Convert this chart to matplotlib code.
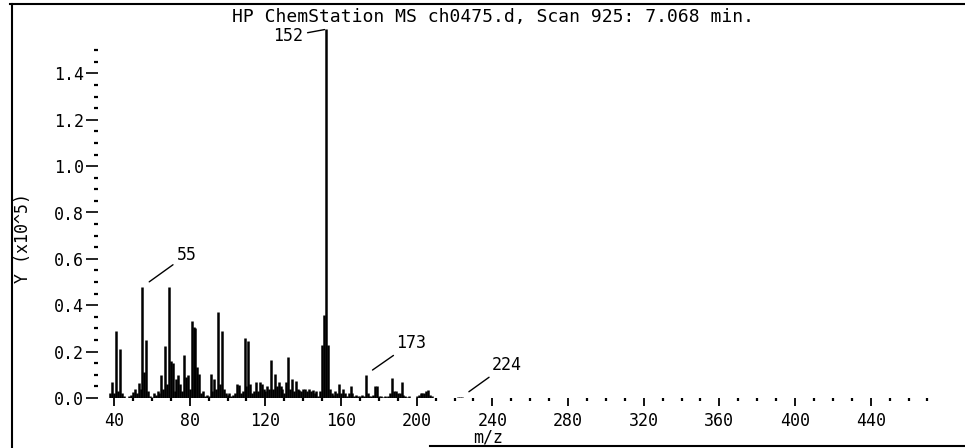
import matplotlib
matplotlib.use("Agg")
import matplotlib.pyplot as plt
from matplotlib.ticker import MultipleLocator, FixedLocator
from matplotlib.lines import Line2D

# ---- data (m/z, abundance in units of 1e5) ----
mz = [38, 39, 40, 41, 42, 43, 44, 45, 48, 49, 50, 51, 52, 53, 54, 55, 56, 57, 58, 59,
      60, 61, 62, 63, 64, 65, 66, 67, 68, 69, 70, 71, 72, 73, 74, 75, 76, 77, 78, 79,
      80, 81, 82, 83, 84, 85, 86, 87, 88, 89, 90, 91, 92, 93, 94, 95, 96, 97, 98, 99,
      100, 101, 102, 103, 104, 105, 106, 107, 108, 109, 110, 111, 112, 113, 114, 115, 116, 117, 118, 119,
      120, 121, 122, 123, 124, 125, 126, 127, 128, 129, 130, 131, 132, 133, 134, 135, 136, 137, 138, 139,
      140, 141, 142, 143, 144, 145, 146, 147, 148, 149, 150, 151, 152, 153, 154, 155, 156, 157, 158, 159,
      160, 161, 162, 163, 164, 165, 166, 167, 168, 169, 170, 171, 172, 173, 174, 175, 176, 177, 178, 179,
      180, 181, 182, 183, 184, 185, 186, 187, 188, 189, 190, 191, 192, 193, 194, 195, 196,
      200, 201, 202, 203, 204, 205, 206, 207, 208, 222, 223, 224]
abundance = [0.02, 0.07, 0.02, 0.29, 0.03, 0.21, 0.02, 0.01, 0.01, 0.015, 0.028, 0.04, 0.02, 0.065, 0.04, 0.48, 0.11, 0.25, 0.03, 0.01,
             0.005, 0.02, 0.015, 0.03, 0.02, 0.10, 0.04, 0.225, 0.06, 0.48, 0.16, 0.15, 0.03, 0.08, 0.10, 0.06, 0.03, 0.185, 0.09, 0.10,
             0.04, 0.33, 0.305, 0.30, 0.135, 0.105, 0.02, 0.03, 0.01, 0.015, 0.01, 0.105, 0.03, 0.08, 0.04, 0.37, 0.06, 0.29, 0.04, 0.02,
             0.015, 0.02, 0.01, 0.015, 0.02, 0.06, 0.055, 0.02, 0.03, 0.26, 0.05, 0.245, 0.06, 0.02, 0.03, 0.07, 0.03, 0.07, 0.06, 0.04,
             0.03, 0.05, 0.04, 0.165, 0.04, 0.105, 0.05, 0.07, 0.05, 0.04, 0.02, 0.07, 0.175, 0.04, 0.08, 0.03, 0.075, 0.04, 0.035, 0.03,
             0.04, 0.04, 0.03, 0.04, 0.03, 0.035, 0.02, 0.03, 0.01, 0.03, 0.23, 0.36, 1.59, 0.23, 0.04, 0.02, 0.015, 0.03, 0.02, 0.06,
             0.02, 0.04, 0.02, 0.01, 0.02, 0.05, 0.02, 0.01, 0.015, 0.01, 0.01, 0.015, 0.01, 0.10, 0.02, 0.01, 0.01, 0.015, 0.05, 0.05,
             0.01, 0.01, 0.005, 0.01, 0.005, 0.01, 0.02, 0.085, 0.03, 0.03, 0.02, 0.02, 0.07, 0.015, 0.01, 0.005, 0.01,
             0.01, 0.015, 0.02, 0.02, 0.02, 0.03, 0.035, 0.015, 0.01, 0.005, 0.005, 0.006]
labeled_peaks = [55, 152, 173, 224]
x_ticks = [40, 80, 120, 160, 200, 240, 280, 320, 360, 400, 440]
y_ticks = [0.0, 0.2, 0.4, 0.6, 0.8, 1.0, 1.2, 1.4]
title = "HP ChemStation MS ch0475.d, Scan 925: 7.068 min."
x_label = "m/z"
y_label = "Y (x10^5)"

FONT = "DejaVu Sans Mono"
W, H = 965, 448
fig = plt.figure(figsize=(W / 100, H / 100), dpi=100)
fig.patch.set_facecolor("white")

ax = fig.add_axes([98 / W, 50 / H, 837 / W, 371 / H])
ax.set_xlim(31.5, 474)
ax.set_ylim(0, 1.6)
ax.vlines(mz, 0, abundance, colors="black", linewidth=1.8)

for s in ax.spines.values():
    s.set_visible(False)

ax.xaxis.set_major_locator(FixedLocator(x_ticks))
ax.xaxis.set_minor_locator(MultipleLocator(10))
ax.set_xticklabels([str(v) for v in x_ticks], fontfamily=FONT, fontsize=12)
ax.yaxis.set_major_locator(FixedLocator(y_ticks))
ax.yaxis.set_minor_locator(FixedLocator([i * 0.05 for i in range(0, 31)]))
ax.set_yticklabels([f"{v:.1f}" for v in y_ticks], fontfamily=FONT, fontsize=12)

ax.tick_params(axis="x", which="major", direction="out", length=6, width=1.3, pad=4, color="black")
ax.tick_params(axis="x", which="minor", direction="out", length=2, width=1.6, color="black")
ax.tick_params(axis="y", which="major", direction="out", length=9, width=1.2, pad=1, color="black")
ax.tick_params(axis="y", which="minor", direction="out", length=3, width=1.6, color="black")

# peak labels with leader lines
abund_of = dict(zip(mz, abundance))
offsets = {55: (32, 23), 152: (-27, -5), 173: (33, 23), 224: (32, 23)}
for p in labeled_peaks:
    ax.annotate(str(p), xy=(p, abund_of[p]), xytext=offsets[p], textcoords="offset points",
                ha="center", va="center", fontfamily=FONT, fontsize=12,
                arrowprops=dict(arrowstyle="-", lw=1.0, color="black", shrinkA=1,
                                shrinkB=6 if p != 152 else 1),
                annotation_clip=False)

fig.text(493 / W, 1 - 17 / H, title, ha="center", va="center", fontfamily=FONT, fontsize=13)
fig.text(488 / W, 1 - 437 / H, x_label, ha="center", va="center", fontfamily=FONT, fontsize=12)
fig.text(23 / W, 1 - 238 / H, y_label, ha="center", va="center", rotation=90, fontfamily=FONT, fontsize=12)

# scanned page frame
fig.add_artist(Line2D([12 / W, 12 / W], [0, 1 - 4 / H], color="black", lw=1.5))
fig.add_artist(Line2D([10 / W, 1], [1 - 4 / H, 1 - 4 / H], color="black", lw=1.5))
fig.add_artist(Line2D([430 / W, 1], [1 - 446 / H, 1 - 446 / H], color="black", lw=1.5))

fig.savefig("out.png", dpi=100)
